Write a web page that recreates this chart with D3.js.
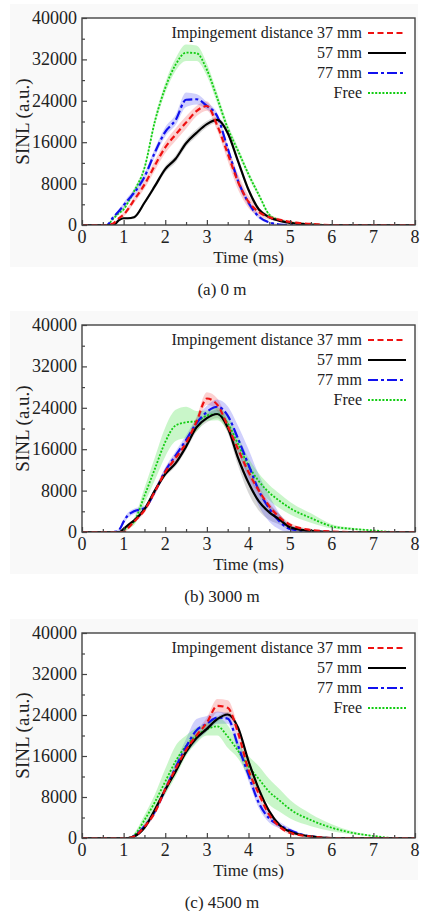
<!DOCTYPE html>
<html>
<head>
<meta charset="utf-8">
<script src="https://cdn.jsdelivr.net/npm/d3@7"></script>
<style>
  body { margin: 0; background: #fff; }
  svg { display: block; }
</style>
</head>
<body>
<div class="chart-page"></div>
<script>
// shared time grid (ms)
const times = [0, 0.5, 0.6, 0.75, 0.9, 1, 1.1, 1.25, 1.5, 1.75, 2, 2.25, 2.5, 2.75, 3, 3.25, 3.5, 3.75, 4, 4.25, 4.5, 4.75, 5, 5.5, 6, 6.5, 7, 7.5, 8];

const seriesNames = ["Impingement distance 37 mm", "57 mm", "77 mm", "Free"];
const xTicks = [0, 1, 2, 3, 4, 5, 6, 7, 8];
const yTicks = [0, 8000, 16000, 24000, 32000, 40000];
const captions = ["(a) 0 m", "(b) 3000 m", "(c) 4500 m"];

// (a) 0 m
const a37 = [0,0,0,300,1400,2000,3000,4800,7800,11500,15000,17500,19800,22000,23000,19200,13800,8300,4500,2500,1500,1000,600,200,0,0,0,0,0];
const a57 = [0,0,0,0,1000,1300,1300,1500,4300,7500,10800,12800,15800,17800,19500,20300,17800,12300,6800,3000,1500,800,400,100,0,0,0,0,0];
const a77 = [0,0,0,1500,2800,3800,4800,6200,9300,14000,18000,20300,24200,24300,23000,21000,14800,8500,4300,1600,500,100,0,0,0,0,0,0,0];
const aFree = [0,0,0,1200,2400,3000,4300,6500,11000,20000,26500,31000,33300,33200,30000,24500,18700,14300,9800,5800,2000,900,500,150,0,0,0,0,0];
const a37Band = [0,0,0,0,300,400,500,600,800,1000,1100,1200,1200,1000,900,1000,1400,1500,1200,800,500,300,200,0,0,0,0,0,0];
const a57Band = [0,0,0,0,200,200,200,300,400,500,600,700,700,700,600,500,500,600,500,400,300,200,100,0,0,0,0,0,0];
const a77Band = [0,0,0,200,400,500,600,700,700,800,900,1000,1400,1000,700,600,700,800,600,400,200,100,0,0,0,0,0,0,0];
const aFreeBand = [0,0,0,200,300,400,400,500,600,800,1000,1200,1600,1500,1200,1000,800,700,600,500,300,200,100,0,0,0,0,0,0];

// (b) 3000 m
const b37 = [0,0,0,0,0,0,700,2000,4200,7800,11600,14300,17200,21300,25800,24600,20500,16000,11600,8000,5000,2800,1400,400,100,0,0,0,0];
const b57 = [0,0,0,0,0,600,1300,2200,4400,8000,11200,13300,16500,20200,22000,22800,20200,14300,9500,5900,3800,2400,900,200,0,0,0,0,0];
const b77 = [0,0,0,0,500,2000,3200,4000,4600,7800,11800,14800,17800,21000,23200,24200,22500,18000,13000,8000,4500,2000,600,100,0,0,0,0,0];
const bFree = [0,0,0,0,0,300,1000,2000,7000,12200,17400,20600,21200,21400,22500,22800,21000,17000,12800,9800,7600,6000,4600,2700,1100,600,300,0,0];
const b37Band = [0,0,0,0,0,0,300,400,500,600,700,700,800,900,1200,1200,1000,900,900,800,700,600,400,200,0,0,0,0,0];
const b57Band = [0,0,0,0,0,200,300,300,400,500,500,600,700,800,800,800,1000,1500,2000,1800,1500,1000,500,200,0,0,0,0,0];
const b77Band = [0,0,0,0,300,500,500,500,500,600,700,800,900,1000,1200,1400,1800,2500,3000,3000,2500,1500,600,100,0,0,0,0,0];
const bFreeBand = [0,0,0,0,0,100,300,700,1500,2200,2800,3000,3000,2000,1000,1200,1500,1500,1500,1500,1500,1400,1200,900,400,200,100,0,0];

// (c) 4500 m
const c37 = [0,0,0,0,0,0,0,300,2200,5000,9500,13500,17200,20000,22500,25800,25400,20500,13300,8600,4500,2200,1000,300,0,0,0,0,0];
const c57 = [0,0,0,0,0,0,0,300,2000,5500,9400,13000,16800,19500,21300,23200,24100,21500,15000,9500,5200,2500,1200,300,0,0,0,0,0];
const c77 = [0,0,0,0,0,0,0,400,2300,5200,9500,13800,17800,21000,22300,23500,23300,18000,12300,6800,3800,2500,1500,300,0,0,0,0,0];
const cFree = [0,0,0,0,0,0,0,500,3500,7000,11000,15000,18000,20000,21200,21800,19800,17000,14000,11500,9000,7300,5600,3500,2000,1000,400,0,0];
const c37Band = [0,0,0,0,0,0,0,200,400,500,600,700,800,900,1000,1300,1500,1300,1000,800,600,400,300,100,0,0,0,0,0];
const c57Band = [0,0,0,0,0,0,0,200,300,400,500,500,500,500,500,500,500,500,500,500,400,300,200,0,0,0,0,0,0];
const c77Band = [0,0,0,0,0,0,0,300,500,600,800,1000,1500,2200,1500,1200,1000,1200,1200,1000,800,600,400,100,0,0,0,0,0];
const cFreeBand = [0,0,0,0,0,0,0,400,1000,1500,2500,3000,2000,1500,1200,1800,2200,1500,2000,2500,2500,2200,1800,1200,700,300,100,0,0];

const panelData = [
  { values: [a37, a57, a77, aFree], bands: [a37Band, a57Band, a77Band, aFreeBand] },
  { values: [b37, b57, b77, bFree], bands: [b37Band, b57Band, b77Band, bFreeBand] },
  { values: [c37, c57, c77, cFree], bands: [c37Band, c57Band, c77Band, cFreeBand] }
];

// line styles, same order as seriesNames
const styles = [
  { stroke: "#ee1111", width: 2.2, dash: "6,3.5", band: "rgba(240,40,40,0.22)" },
  { stroke: "#000000", width: 2.2, dash: null, band: "rgba(0,0,0,0.16)" },
  { stroke: "#1111ee", width: 2.2, dash: "10,3,3,3", band: "rgba(40,40,240,0.22)" },
  { stroke: "#11cc11", width: 1.8, dash: "2,1.6", band: "rgba(40,220,40,0.25)" }
];

const width = 421, height = 911;
const left = 82, right = 415;
const fontFamily = "'Liberation Serif', 'Times New Roman', 'DejaVu Serif', serif";
const layout = [
  { top: 18, bottom: 225 },
  { top: 325, bottom: 532 },
  { top: 633, bottom: 838 }
];

const svg = d3.select(".chart-page")
  .append("svg")
  .attr("width", width)
  .attr("height", height)
  .attr("font-family", fontFamily);

let x = d3.scaleLinear().domain([0, 8]).range([left, right]);

layout.forEach(function(p, i) {
  let g = svg.append("g");
  let y = d3.scaleLinear().domain([0, 40000]).range([p.bottom, p.top]);

  g.append("rect")
    .attr("x", 10).attr("y", p.top - 14)
    .attr("width", 408).attr("height", p.bottom - p.top + 56)
    .attr("fill", "#f9f9f9");
  g.append("rect")
    .attr("x", left).attr("y", p.top)
    .attr("width", right - left).attr("height", p.bottom - p.top)
    .attr("fill", "#fff");

  let clipId = "clip" + i;
  g.append("clipPath").attr("id", clipId)
    .append("rect")
    .attr("x", left).attr("y", p.top)
    .attr("width", right - left).attr("height", p.bottom - p.top);

  let plot = g.append("g").attr("clip-path", "url(#" + clipId + ")");
  let d = panelData[i];

  let area = d3.area()
    .x(function(v, k) { return x(times[k]); })
    .curve(d3.curveMonotoneX);
  let line = d3.line()
    .x(function(v, k) { return x(times[k]); })
    .y(function(v) { return y(v); })
    .curve(d3.curveMonotoneX);

  // shaded spread bands, drawn under all lines
  d.values.forEach(function(vals, s) {
    let band = d.bands[s];
    plot.append("path")
      .datum(vals)
      .attr("fill", styles[s].band)
      .attr("d", area
        .y0(function(v, k) { return y(Math.max(0, v - band[k])); })
        .y1(function(v, k) { return y(v + band[k]); }));
  });

  // draw order: free, 77, 57, 37 on top
  [3, 2, 1, 0].forEach(function(s) {
    plot.append("path")
      .datum(d.values[s])
      .attr("fill", "none")
      .attr("stroke", styles[s].stroke)
      .attr("stroke-width", styles[s].width)
      .attr("stroke-dasharray", styles[s].dash)
      .attr("d", line);
  });

  // frame
  g.append("rect")
    .attr("x", left).attr("y", p.top)
    .attr("width", right - left).attr("height", p.bottom - p.top)
    .attr("fill", "none")
    .attr("stroke", "#444")
    .attr("stroke-width", 1.4);

  // inward ticks
  let xAxis = g.append("g").attr("transform", "translate(0," + p.bottom + ")")
    .call(d3.axisBottom(x).tickValues(d3.range(0, 8.01, 0.5)).tickSize(-5).tickFormat(""));
  xAxis.selectAll(".tick line")
    .attr("y2", function(t) { return Number.isInteger(t) ? -5 : -3; })
    .attr("stroke", "#444").attr("stroke-width", 1.2);
  xAxis.select(".domain").remove();

  let yAxis = g.append("g").attr("transform", "translate(" + left + ",0)")
    .call(d3.axisLeft(y).tickValues(d3.range(0, 40001, 4000)).tickSize(-5).tickFormat(""));
  yAxis.selectAll(".tick line")
    .attr("x2", function(t) { return t % 8000 === 0 ? 5 : 3; })
    .attr("stroke", "#444").attr("stroke-width", 1.2);
  yAxis.select(".domain").remove();

  // tick labels
  g.selectAll(".xlab")
    .data(xTicks)
    .enter().append("text")
    .attr("x", function(t) { return x(t); })
    .attr("y", p.bottom + 18)
    .attr("text-anchor", "middle")
    .attr("font-size", 18)
    .attr("fill", "#222")
    .text(function(t) { return t; });

  g.selectAll(".ylab")
    .data(yTicks)
    .enter().append("text")
    .attr("x", left - 5)
    .attr("y", function(t) { return y(t) + 6; })
    .attr("text-anchor", "end")
    .attr("font-size", 18)
    .attr("fill", "#222")
    .text(function(t) { return t; });

  g.append("text")
    .attr("x", x(4))
    .attr("y", p.bottom + 38)
    .attr("text-anchor", "middle")
    .attr("font-size", 17)
    .attr("fill", "#222")
    .text("Time (ms)");

  g.append("text")
    .attr("transform", "translate(29," + (p.top + p.bottom) / 2 + ") rotate(-90)")
    .attr("text-anchor", "middle")
    .attr("font-size", 19)
    .attr("fill", "#222")
    .text("SINL (a.u.)");

  g.append("text")
    .attr("x", 222)
    .attr("y", p.bottom + 70)
    .attr("text-anchor", "middle")
    .attr("font-size", 17)
    .attr("fill", "#222")
    .text(captions[i]);

  // legend
  seriesNames.forEach(function(name, s) {
    let ly = p.top + 15 + s * 20;
    g.append("text")
      .attr("x", 362)
      .attr("y", ly + 5)
      .attr("text-anchor", "end")
      .attr("font-size", 16)
      .attr("fill", "#222")
      .text(name);
    g.append("line")
      .attr("x1", 368).attr("x2", 406)
      .attr("y1", ly).attr("y2", ly)
      .attr("stroke", styles[s].stroke)
      .attr("stroke-width", styles[s].width)
      .attr("stroke-dasharray", styles[s].dash);
  });
});
</script>
</body>
</html>
